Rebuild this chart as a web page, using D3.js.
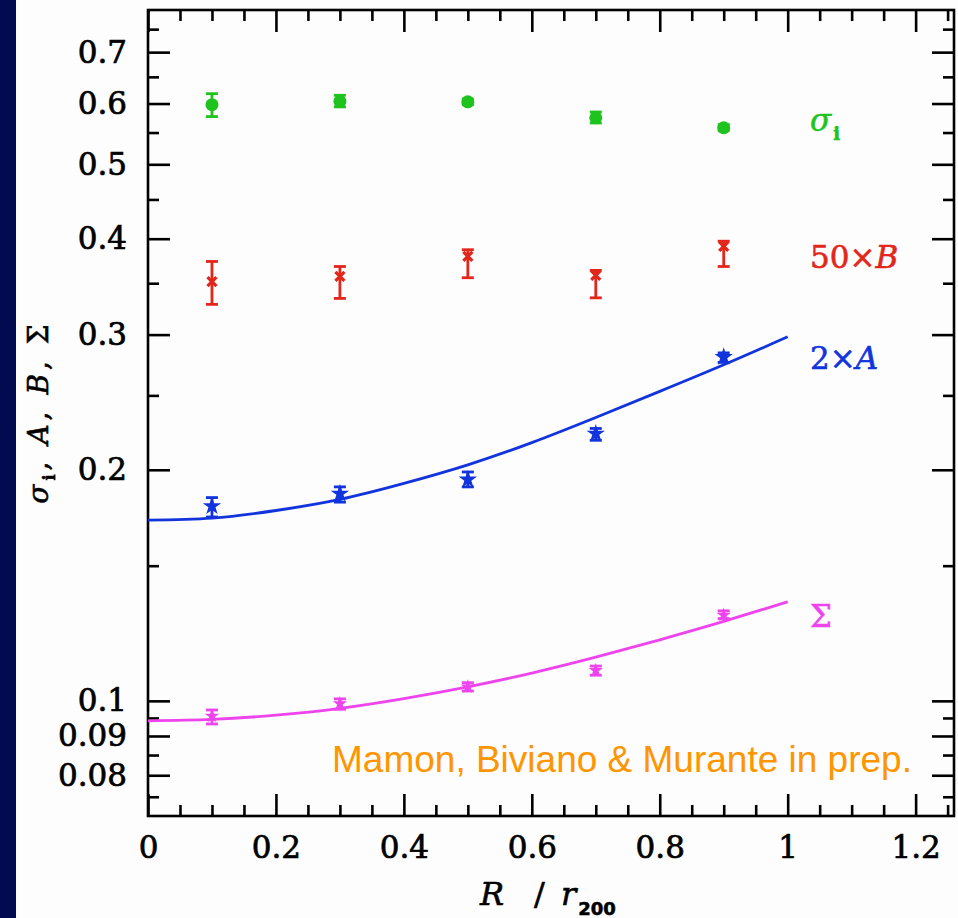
<!DOCTYPE html>
<html>
<head>
<meta charset="utf-8">
<script src="https://cdn.jsdelivr.net/npm/d3@7"></script>
<style>
  html, body { margin: 0; padding: 0; background: #fdfdfd; }
  svg { display: block; }
  .tick text { font-family: "DejaVu Serif", serif; font-size: 31px; fill: #000; stroke: #000; stroke-width: 0.7px; }
  .lab { stroke-width: 0.6px; }
</style>
</head>
<body>
<svg id="chart" width="958" height="918"></svg>
<script>
// ---------------- data ----------------
const radii = [0.1, 0.3, 0.5, 0.7, 0.9];

const sigmaI   = [0.598, 0.604, 0.603, 0.575, 0.558];
const sigmaILo = [0.577, 0.594, 0.598, 0.566, 0.553];
const sigmaIHi = [0.618, 0.615, 0.608, 0.585, 0.563];

const b50   = [0.3516, 0.3573, 0.3794, 0.3583, 0.3908];
const b50Lo = [0.3285, 0.3344, 0.3558, 0.3350, 0.3680];
const b50Hi = [0.3736, 0.3680, 0.3870, 0.3637, 0.3970];

const a2   = [0.1793, 0.1862, 0.1942, 0.2229, 0.2805];
const a2Lo = [0.1736, 0.1815, 0.1900, 0.2185, 0.2760];
const a2Hi = [0.1840, 0.1900, 0.1987, 0.2264, 0.2840];

const sigmaC   = [0.0955, 0.0992, 0.1043, 0.1096, 0.1293];
const sigmaCLo = [0.0933, 0.0975, 0.1030, 0.1080, 0.1280];
const sigmaCHi = [0.0973, 0.1006, 0.1056, 0.1110, 0.1310];

// fitted model curves
const fitR     = [0, 0.1, 0.2, 0.3, 0.4, 0.5, 0.6, 0.7, 0.8, 0.9, 1.0];
const fitA     = [0.172, 0.173, 0.177, 0.183, 0.192, 0.203, 0.217, 0.234, 0.253, 0.274, 0.298];
const fitSigma = [0.0942, 0.0946, 0.0958, 0.0978, 0.1007, 0.1043, 0.1087, 0.1140, 0.1201, 0.1269, 0.1346];

// ticks
const xMajor = [0, 0.2, 0.4, 0.6, 0.8, 1, 1.2];
const xMajorLabels = ["0", "0.2", "0.4", "0.6", "0.8", "1", "1.2"];
const xMinor = [0.05, 0.1, 0.15, 0.25, 0.3, 0.35, 0.45, 0.5, 0.55, 0.65, 0.7, 0.75,
                0.85, 0.9, 0.95, 1.05, 1.1, 1.15, 1.25];
const yMajor = [0.08, 0.09, 0.1, 0.2, 0.3, 0.4, 0.5, 0.6, 0.7];
const yMajorLabels = ["0.08", "0.09", "0.1", "0.2", "0.3", "0.4", "0.5", "0.6", "0.7"];
const yMinor = [0.075, 0.085, 0.095, 0.15, 0.25, 0.35, 0.45, 0.55, 0.65, 0.75];

// series labels (value at label baseline)
const seriesLabelValues = [0.552, 0.366, 0.271, 0.1247];

// ---------------- layout ----------------
const W = 958, H = 918;
const pLeft = 148, pRight = 954, pTop = 10, pBottom = 816;
const colors = { green: "#1ec31e", red: "#e3261b", blue: "#1234dd", magenta: "#ee44ee", orange: "#ff9500", navy: "#020b50" };

const svg = d3.select("#chart");
svg.append("rect").attr("x", 0).attr("y", 0).attr("width", W).attr("height", H).attr("fill", "#fdfdfd");
svg.append("rect").attr("x", 0).attr("y", 0).attr("width", 16).attr("height", H).attr("fill", colors.navy);

const x = d3.scaleLinear().domain([0, 1.26]).range([pLeft, pRight]);
const y = d3.scaleLog().domain([Math.pow(10, -1.15), Math.pow(10, -0.1)]).range([pBottom, pTop]);

const MAJ = 22, MIN = 11;

function styleAxis(g) {
  g.select(".domain").remove();
  g.selectAll(".tick line").attr("stroke", "#000").attr("stroke-width", 2.6);
}

// bottom
svg.append("g").attr("transform", `translate(0,${pBottom})`)
  .call(d3.axisBottom(x).tickValues(xMajor).tickSize(-MAJ).tickPadding(20)
        .tickFormat((d, i) => xMajorLabels[i]))
  .call(styleAxis);
svg.append("g").attr("transform", `translate(0,${pBottom})`)
  .call(d3.axisBottom(x).tickValues(xMinor).tickSize(-MIN).tickFormat(""))
  .call(styleAxis);
// top
svg.append("g").attr("transform", `translate(0,${pTop})`)
  .call(d3.axisTop(x).tickValues(xMajor).tickSize(-MAJ).tickFormat(""))
  .call(styleAxis);
svg.append("g").attr("transform", `translate(0,${pTop})`)
  .call(d3.axisTop(x).tickValues(xMinor).tickSize(-MIN).tickFormat(""))
  .call(styleAxis);
// left
svg.append("g").attr("transform", `translate(${pLeft},0)`)
  .call(d3.axisLeft(y).tickValues(yMajor).tickSize(-MAJ).tickPadding(21)
        .tickFormat((d, i) => yMajorLabels[i]))
  .call(styleAxis);
svg.append("g").attr("transform", `translate(${pLeft},0)`)
  .call(d3.axisLeft(y).tickValues(yMinor).tickSize(-MIN).tickFormat(""))
  .call(styleAxis);
// right
svg.append("g").attr("transform", `translate(${pRight},0)`)
  .call(d3.axisRight(y).tickValues(yMajor).tickSize(-MAJ).tickFormat(""))
  .call(styleAxis);
svg.append("g").attr("transform", `translate(${pRight},0)`)
  .call(d3.axisRight(y).tickValues(yMinor).tickSize(-MIN).tickFormat(""))
  .call(styleAxis);

// frame
svg.append("rect").attr("x", pLeft).attr("y", pTop)
  .attr("width", pRight - pLeft).attr("height", pBottom - pTop)
  .attr("fill", "none").attr("stroke", "#000").attr("stroke-width", 2.6);

// ---------------- curves ----------------
const line = d3.line().x(d => x(d[0])).y(d => y(d[1])).curve(d3.curveNatural);
svg.append("path").datum(fitR.map((r, i) => [r, fitA[i]]))
  .attr("d", line).attr("fill", "none").attr("stroke", colors.blue).attr("stroke-width", 2.8);
svg.append("path").datum(fitR.map((r, i) => [r, fitSigma[i]]))
  .attr("d", line).attr("fill", "none").attr("stroke", colors.magenta).attr("stroke-width", 2.8);

// ---------------- error bars & markers ----------------
function errorBars(vals, lo, hi, color) {
  const g = svg.append("g").attr("stroke", color).attr("stroke-width", 2.8).attr("fill", "none");
  radii.forEach((r, i) => {
    const cx = x(r);
    g.append("line").attr("x1", cx).attr("x2", cx).attr("y1", y(lo[i])).attr("y2", y(hi[i]));
    g.append("line").attr("x1", cx - 6).attr("x2", cx + 6).attr("y1", y(lo[i])).attr("y2", y(lo[i]));
    g.append("line").attr("x1", cx - 6).attr("x2", cx + 6).attr("y1", y(hi[i])).attr("y2", y(hi[i]));
  });
}

errorBars(sigmaI, sigmaILo, sigmaIHi, colors.green);
svg.append("g").selectAll("circle").data(radii).join("circle")
  .attr("cx", d => x(d)).attr("cy", (d, i) => y(sigmaI[i])).attr("r", 6.5)
  .attr("fill", colors.green);

errorBars(b50, b50Lo, b50Hi, colors.red);
svg.append("g").selectAll("path").data(radii).join("path")
  .attr("d", (d, i) => {
    const cx = x(d), cy = y(b50[i]), s = 4.5;
    return `M${cx - s},${cy - s}L${cx + s},${cy + s}M${cx - s},${cy + s}L${cx + s},${cy - s}`;
  })
  .attr("stroke", colors.red).attr("stroke-width", 3.2).attr("fill", "none");

errorBars(a2, a2Lo, a2Hi, colors.blue);
const starBig = d3.symbol().type(d3.symbolStar).size(105);
svg.append("g").selectAll("path").data(radii).join("path")
  .attr("transform", (d, i) => `translate(${x(d)},${y(a2[i])})`)
  .attr("d", starBig).attr("fill", colors.blue);

errorBars(sigmaC, sigmaCLo, sigmaCHi, colors.magenta);
const starSmall = d3.symbol().type(d3.symbolStar).size(65);
svg.append("g").selectAll("path").data(radii).join("path")
  .attr("transform", (d, i) => `translate(${x(d)},${y(sigmaC[i])})`)
  .attr("d", starSmall).attr("fill", colors.magenta);

// ---------------- series labels ----------------
const labX = 810;
const lf = '"DejaVu Serif", serif';
const l1 = svg.append("text").attr("class", "lab").attr("x", labX).attr("y", y(seriesLabelValues[0]))
  .attr("font-family", lf).attr("font-size", 31).attr("fill", colors.green).attr("stroke", colors.green);
l1.append("tspan").attr("font-style", "italic").text("σ");
l1.append("tspan").attr("font-size", 18).attr("font-weight", "bold").attr("dy", 9).attr("dx", 2).text("i");

const l2 = svg.append("text").attr("class", "lab").attr("x", labX).attr("y", y(seriesLabelValues[1]))
  .attr("font-family", lf).attr("font-size", 31).attr("fill", colors.red).attr("stroke", colors.red);
l2.append("tspan").text("50×");
l2.append("tspan").attr("font-style", "italic").text("B");

const l3 = svg.append("text").attr("class", "lab").attr("x", labX).attr("y", y(seriesLabelValues[2]))
  .attr("font-family", lf).attr("font-size", 31).attr("fill", colors.blue).attr("stroke", colors.blue);
l3.append("tspan").text("2×");
l3.append("tspan").attr("font-style", "italic").text("A");

svg.append("text").attr("class", "lab").attr("x", labX).attr("y", y(seriesLabelValues[3]))
  .attr("font-family", lf).attr("font-size", 31).attr("fill", colors.magenta)
  .attr("stroke", colors.magenta).text("Σ");

// credit
svg.append("text").attr("x", 332).attr("y", 772)
  .attr("font-family", '"Liberation Sans", Arial, sans-serif').attr("font-size", 37)
  .attr("fill", colors.orange).text("Mamon, Biviano & Murante in prep.");

// ---------------- axis titles ----------------
const xt = svg.append("text").attr("class", "lab").attr("x", 480).attr("y", 905)
  .attr("font-family", lf).attr("font-size", 32).attr("fill", "#000").attr("stroke", "#000");
xt.append("tspan").attr("font-style", "italic").text("R");
xt.append("tspan").attr("dx", 30).text("/");
xt.append("tspan").attr("dx", 16).attr("font-style", "italic").text("r");
xt.append("tspan").attr("dy", 10).attr("dx", 2).attr("font-size", 18).attr("font-weight", "bold")
  .attr("font-family", '"DejaVu Sans", sans-serif').text("200");

const yt = svg.append("text").attr("class", "lab").attr("transform", "translate(48,412) rotate(-90)")
  .attr("text-anchor", "middle").attr("font-family", lf).attr("font-size", 28)
  .attr("fill", "#000").attr("stroke", "#000").attr("letter-spacing", 4).style("white-space", "pre");
yt.append("tspan").attr("font-style", "italic").text("σ");
yt.append("tspan").attr("font-size", 16).attr("font-weight", "bold").attr("dy", 7).text("i");
yt.append("tspan").attr("dy", -7).text(", ");
yt.append("tspan").attr("font-style", "italic").text("A");
yt.append("tspan").text(", ");
yt.append("tspan").attr("font-style", "italic").text("B");
yt.append("tspan").text(", Σ");
</script>
</body>
</html>
